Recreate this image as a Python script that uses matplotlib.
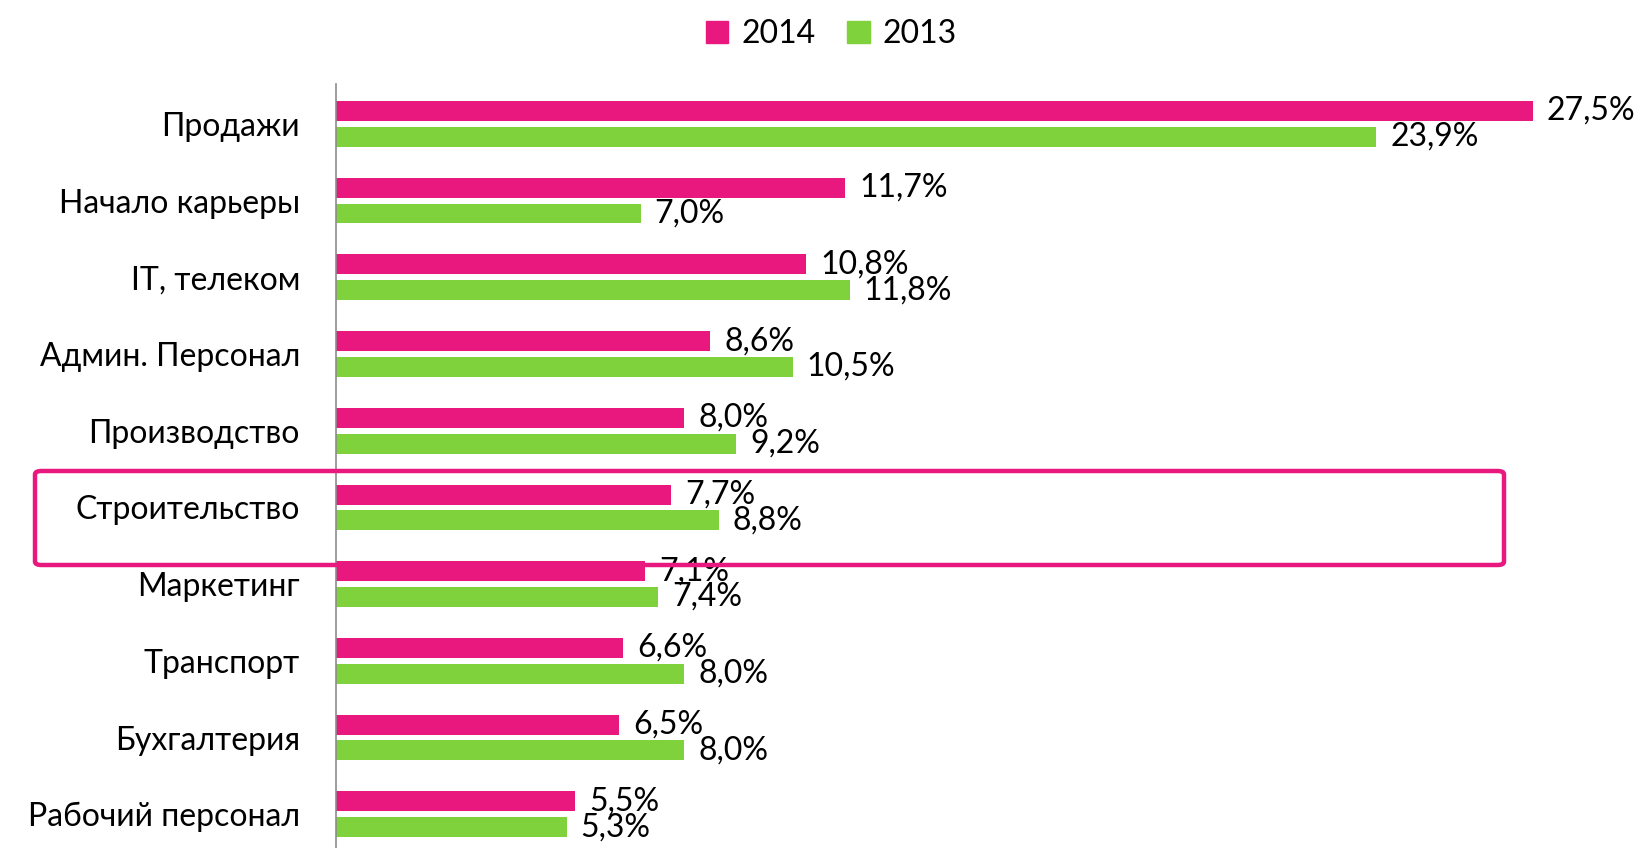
import matplotlib
matplotlib.use("Agg")
import matplotlib.pyplot as plt
import numpy as np
from matplotlib.patches import FancyBboxPatch, Patch

plt.rcParams['font.family'] = ['Lato', 'DejaVu Sans']

# data
categories = ["Продажи", "Начало карьеры", "IT, телеком", "Админ. Персонал",
              "Производство", "Строительство", "Маркетинг", "Транспорт",
              "Бухгалтерия", "Рабочий персонал"]
vals_2014 = [27.5, 11.7, 10.8, 8.6, 8.0, 7.7, 7.1, 6.6, 6.5, 5.5]
vals_2013 = [23.9, 7.0, 11.8, 10.5, 9.2, 8.8, 7.4, 8.0, 8.0, 5.3]
labels_2014 = ["27,5%", "11,7%", "10,8%", "8,6%", "8,0%", "7,7%", "7,1%", "6,6%", "6,5%", "5,5%"]
labels_2013 = ["23,9%", "7,0%", "11,8%", "10,5%", "9,2%", "8,8%", "7,4%", "8,0%", "8,0%", "5,3%"]
highlight = "Строительство"

pink = "#E8187E"
green = "#7FD23C"
fs = 23

W, H = 1646, 848
fig = plt.figure(figsize=(W / 100, H / 100), dpi=100)
# axes in pixel coords: left 336, right 1646, top 84, bottom 848
ax = fig.add_axes([336 / W, 0, (W - 336) / W, (H - 84) / H])

y = np.arange(len(categories))
bh = 0.26
off = 0.168
ax.barh(y - off, vals_2014, height=bh, color=pink, label="2014")
ax.barh(y + off, vals_2013, height=bh, color=green, label="2013")

for i in range(len(categories)):
    ax.annotate(labels_2014[i], (vals_2014[i], y[i] - off), xytext=(10, 0),
                textcoords="offset points", va="center", ha="left", fontsize=fs)
    ax.annotate(labels_2013[i], (vals_2013[i], y[i] + off), xytext=(10, 0),
                textcoords="offset points", va="center", ha="left", fontsize=fs)

ax.set_xlim(0, 30.1)
ax.set_ylim(9.44, -0.52)
ax.set_yticks(y)
ax.set_yticklabels(categories, fontsize=fs)
ax.tick_params(axis="y", length=0, pad=26)
ax.set_xticks([])
for s in ["top", "right", "bottom"]:
    ax.spines[s].set_visible(False)
ax.spines["left"].set_color("#8c8c8c")
ax.spines["left"].set_linewidth(1.2)

# highlight box around one category
hi = categories.index(highlight)
box = FancyBboxPatch((35 / W, 1 - 565 / H), (1504 - 35) / W, (565 - 471) / H,
                     boxstyle="round,pad=0,rounding_size=0.004",
                     transform=fig.transFigure, fill=False,
                     edgecolor=pink, linewidth=3.2, zorder=10)
fig.patches.append(box)

handles = [Patch(color=pink), Patch(color=green)]
fig.legend(handles, ["2014", "2013"], loc="upper center", bbox_to_anchor=(0.505, 1.0),
           ncol=2, frameon=False, fontsize=fs, handlelength=0.7, handleheight=0.7,
           handletextpad=0.4, columnspacing=1.0, borderaxespad=0.2)

fig.savefig("out.png", dpi=100)
